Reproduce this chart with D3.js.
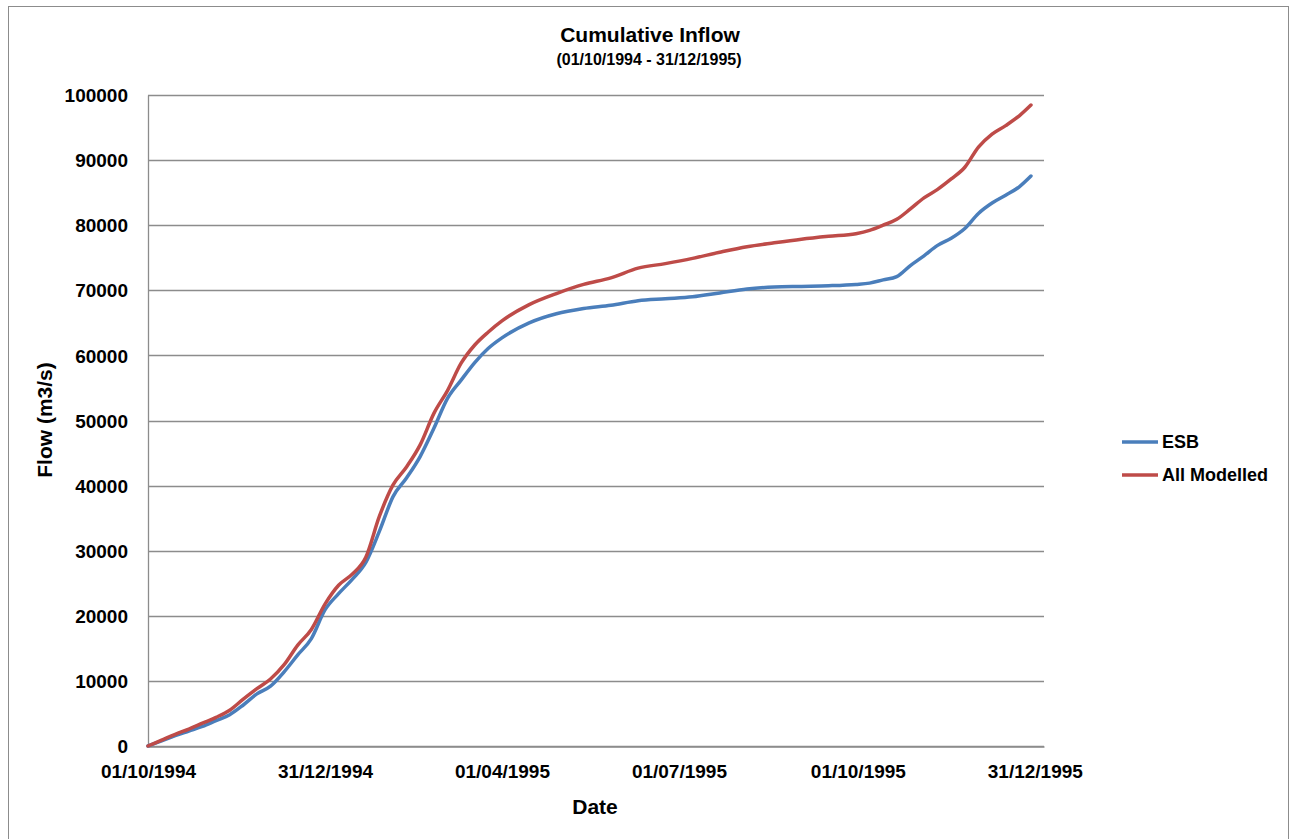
<!DOCTYPE html>
<html>
<head>
<meta charset="utf-8">
<script src="https://cdn.jsdelivr.net/npm/d3@7"></script>
<style>
  body { margin: 0; background: #fff; }
  text { font-family: "Liberation Sans", Arial, sans-serif; font-weight: bold; fill: #000; }
</style>
</head>
<body>
<svg id="chart" width="1290" height="839"></svg>
<script>
// sample dates (dd/mm/yyyy)
var dates = [
  "01/10/1994","08/10/1994","15/10/1994","22/10/1994","29/10/1994","05/11/1994","12/11/1994",
  "19/11/1994","26/11/1994","03/12/1994","10/12/1994","17/12/1994","24/12/1994","31/12/1994",
  "07/01/1995","14/01/1995","21/01/1995","28/01/1995","04/02/1995","11/02/1995","18/02/1995",
  "25/02/1995","04/03/1995","11/03/1995","18/03/1995","25/03/1995","01/04/1995","15/04/1995",
  "29/04/1995","13/05/1995","27/05/1995","10/06/1995","24/06/1995","08/07/1995","22/07/1995",
  "05/08/1995","19/08/1995","02/09/1995","16/09/1995","30/09/1995","07/10/1995","14/10/1995",
  "21/10/1995","28/10/1995","04/11/1995","11/11/1995","18/11/1995","25/11/1995","02/12/1995",
  "09/12/1995","16/12/1995","23/12/1995","29/12/1995"
];

var esb = [
  0, 800, 1600, 2300, 3000, 3900, 4800,
  6300, 8000, 9200, 11400, 14000, 16500, 20900,
  23400, 25600, 28200, 33000, 38300, 41200, 44500,
  48800, 53400, 56200, 58900, 61100, 62700, 65000,
  66400, 67200, 67700, 68400, 68700, 69000, 69600,
  70200, 70500, 70600, 70700, 70900, 71100, 71600,
  72100, 73800, 75300, 76900, 78000, 79500, 81800,
  83400, 84600, 85900, 87550
];

var allModelled = [
  0, 900, 1800, 2600, 3500, 4400, 5500,
  7200, 8800, 10300, 12500, 15500, 17900, 21800,
  24700, 26400, 29000, 35300, 40100, 42900, 46300,
  51100, 54600, 58800, 61600, 63600, 65300, 67800,
  69500, 70900, 71900, 73400, 74100, 74900, 75850,
  76700, 77300, 77850, 78300, 78700, 79200, 80000,
  80900, 82500, 84200, 85500, 87100, 88900, 92000,
  94000, 95300, 96800, 98450
];

var seriesNames = ["ESB", "All Modelled"];
var seriesColors = ["#4a7ebb", "#be4b48"];
var xTicks = ["01/10/1994","31/12/1994","01/04/1995","01/07/1995","01/10/1995","31/12/1995"];
var yTicks = [0,10000,20000,30000,40000,50000,60000,70000,80000,90000,100000];

var parse = d3.utcParse("%d/%m/%Y");
var fmt = d3.utcFormat("%d/%m/%Y");

var svg = d3.select("#chart");

// outer chart border
svg.append("rect")
  .attr("x", 8.5).attr("y", 6.5)
  .attr("width", 1280).attr("height", 840)
  .attr("fill", "none")
  .attr("stroke", "#8c8c8c")
  .attr("stroke-width", 1);

var plot = {left: 148, right: 1044, top: 95, bottom: 746};

var x = d3.scaleUtc()
  .domain([parse("01/10/1994"), d3.utcHour.offset(parse("04/01/1996"), 17)])
  .range([plot.left, plot.right]);

var y = d3.scaleLinear()
  .domain([0, 100000])
  .range([plot.bottom, plot.top]);

// gridlines
svg.append("g")
  .selectAll("line")
  .data(yTicks)
  .enter()
  .append("line")
  .attr("x1", plot.left).attr("x2", plot.right)
  .attr("y1", d => Math.round(y(d)) + 0.5)
  .attr("y2", d => Math.round(y(d)) + 0.5)
  .attr("stroke", "#8c8c8c")
  .attr("stroke-width", 1.3);

// axes
var yAxis = d3.axisLeft(y)
  .tickValues(yTicks)
  .tickSize(0)
  .tickPadding(20)
  .tickFormat(d3.format("d"));

svg.append("g")
  .attr("transform", "translate(" + plot.left + ",0)")
  .call(yAxis)
  .call(g => g.select(".domain").attr("stroke", "#8c8c8c").attr("stroke-width", 1.3))
  .selectAll("text")
  .style("font-size", "19px")
  .attr("dy", "0.35em");

var xAxis = d3.axisBottom(x)
  .tickValues(xTicks.map(parse))
  .tickSize(0)
  .tickPadding(28)
  .tickFormat(fmt);

svg.append("g")
  .attr("transform", "translate(0," + (Math.round(plot.bottom) + 0.5) + ")")
  .call(xAxis)
  .call(g => g.select(".domain").attr("stroke", "#8c8c8c").attr("stroke-width", 1.3))
  .selectAll("text")
  .style("font-size", "19px")
  .attr("dy", "0.2em");

// series lines
var series = [esb, allModelled];
var line = d3.line()
  .x((d, i) => x(parse(dates[i])))
  .y(d => y(d))
  .curve(d3.curveMonotoneX);

svg.append("g")
  .selectAll("path")
  .data(series)
  .enter()
  .append("path")
  .attr("d", d => line(d))
  .attr("fill", "none")
  .attr("stroke", (d, i) => seriesColors[i])
  .attr("stroke-width", 3.5)
  .attr("stroke-linejoin", "round")
  .attr("stroke-linecap", "round");

// titles
svg.append("text")
  .attr("x", 650).attr("y", 42)
  .attr("text-anchor", "middle")
  .style("font-size", "21px")
  .text("Cumulative Inflow");

svg.append("text")
  .attr("x", 649).attr("y", 65)
  .attr("text-anchor", "middle")
  .style("font-size", "16px")
  .text("(01/10/1994 - 31/12/1995)");

svg.append("text")
  .attr("transform", "translate(52,420) rotate(-90)")
  .attr("text-anchor", "middle")
  .style("font-size", "21px")
  .text("Flow (m3/s)");

svg.append("text")
  .attr("x", 595).attr("y", 814)
  .attr("text-anchor", "middle")
  .style("font-size", "21px")
  .text("Date");

// legend
var legend = svg.append("g")
  .selectAll("g")
  .data(seriesNames)
  .enter()
  .append("g")
  .attr("transform", (d, i) => "translate(1122," + (442 + i * 33) + ")");

legend.append("line")
  .attr("x1", 0).attr("x2", 36)
  .attr("stroke", (d, i) => seriesColors[i])
  .attr("stroke-width", 3.5);

legend.append("text")
  .attr("x", 40)
  .attr("dy", "0.35em")
  .style("font-size", "18px")
  .text(d => d);
</script>
</body>
</html>
